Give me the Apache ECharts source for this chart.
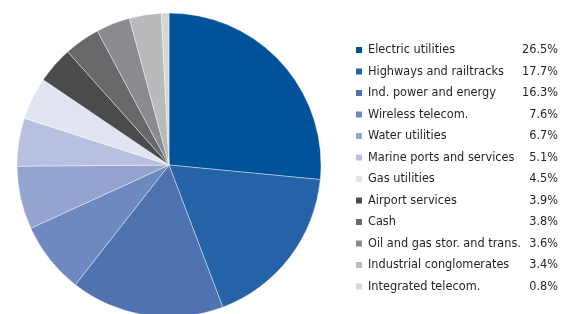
<!DOCTYPE html>
<html>
<head>
<meta charset="utf-8">
<script src="https://cdn.jsdelivr.net/npm/echarts@6/dist/echarts.min.js"></script>
<style>
  html, body { margin: 0; padding: 0; background: #fff; }
  #chart { width: 573px; height: 314px; }
</style>
</head>
<body>
<div id="chart"></div>
<script>
// sectors and weights (%)
var sectors = ['Electric utilities', 'Highways and railtracks', 'Ind. power and energy',
  'Wireless telecom.', 'Water utilities', 'Marine ports and services', 'Gas utilities',
  'Airport services', 'Cash', 'Oil and gas stor. and trans.', 'Industrial conglomerates',
  'Integrated telecom.'];
var weights = [26.5, 17.7, 16.3, 7.6, 6.7, 5.1, 4.5, 3.9, 3.8, 3.6, 3.4, 0.8];
var colors = ['#00529b', '#2563a8', '#4f73b0', '#6f88bf', '#93a5ce', '#b7c0df',
  '#e1e5f1', '#4a4b4d', '#67686a', '#8a8b8e', '#b9babc', '#d6d6d6'];

var chart = echarts.init(document.getElementById('chart'));

var pieData = sectors.map(function (s, i) {
  return { name: s, value: weights[i] };
});

var fam = '"DejaVu Sans Condensed", "Liberation Sans Narrow", "Liberation Sans", sans-serif';

chart.setOption({
  color: colors,
  animation: false,
  legend: {
    orient: 'vertical',
    left: 349,
    top: 38,
    icon: 'rect',
    itemWidth: 8,
    itemHeight: 8,
    itemGap: 7.5,
    data: sectors,
    formatter: function (name) {
      var i = sectors.indexOf(name);
      return '{n|' + name + '}{p|' + weights[i].toFixed(1) + '%}';
    },
    textStyle: {
      fontFamily: fam,
      fontSize: 12.6,
      lineHeight: 14,
      color: '#231f20',
      rich: {
        n: { width: 150, fontFamily: fam, fontSize: 12.6, lineHeight: 14, color: '#231f20' },
        p: { width: 40, align: 'right', fontFamily: fam, fontSize: 12.6, lineHeight: 14, color: '#231f20' }
      }
    }
  },
  series: [{
    type: 'pie',
    center: [169, 165],
    radius: 152,
    startAngle: 90,
    clockwise: true,
    label: { show: false },
    labelLine: { show: false },
    itemStyle: { borderColor: '#ffffff', borderWidth: 0.4 },
    emphasis: { disabled: true },
    data: pieData
  }]
});
</script>
</body>
</html>
